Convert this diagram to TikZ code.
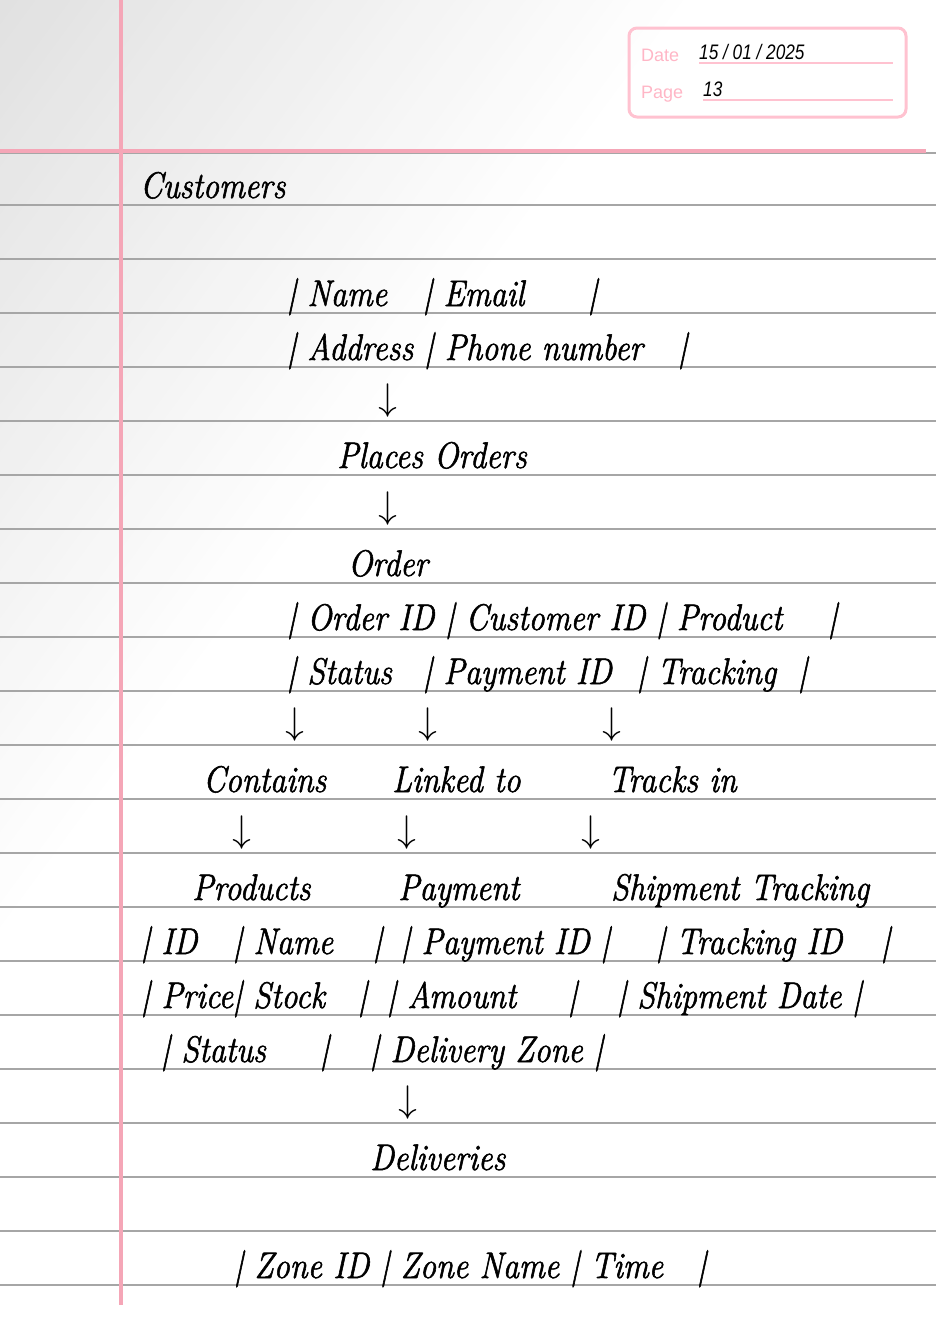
\documentclass[tikz,border=0pt]{standalone}
\usepackage{fontspec}
\newfontfamily\labelfont{Liberation Sans}
\newfontfamily\datefont{Liberation Sans}[FakeStretch=0.82]
\newfontfamily\handfont{Latin Modern Roman}[FakeStretch=0.87,FakeBold=1.5]
\newfontfamily\arrowfont{Latin Modern Math}
\definecolor{pinkmargin}{HTML}{F5A6B7}
\definecolor{pinkbox}{HTML}{FFC2D0}
\definecolor{pinktext}{HTML}{FFB6C6}
\definecolor{rulegray}{HTML}{A6A6A6}
\tikzset{
  hand/.style={anchor=base west, inner sep=0pt, text=black,
    font=\fontsize{37}{44}\handfont\itshape},
  arrowtxt/.style={anchor=south, inner sep=0pt, text=black,
    font=\fontsize{38}{44}\arrowfont},
  ruleline/.style={draw=rulegray, line width=2pt},
  boxlabel/.style={anchor=base west, inner sep=0pt, text=pinktext,
    font=\fontsize{18}{21}\selectfont\labelfont},
  boxvalue/.style={anchor=base west, inner sep=0pt, text=black,
    font=\fontsize{21}{24}\datefont\itshape},
}
\begin{document}
\begin{tikzpicture}[x=1pt,y=-1pt]
\useasboundingbox (0,0) rectangle (936,1320);
\fill[white] (0,0) rectangle (936,1320);
% soft grey shading in the top-left corner
\foreach \i in {40,39,...,1}{
  \pgfmathsetmacro\tt{\i/40}
  \pgfmathsetmacro\kk{12*(1-\tt)}
  \fill[black!\kk] (0,0) -- (700*\tt,0) -- (0,950*\tt) -- cycle;
}
% ruled lines
\draw[ruleline] (0,153) -- (936,153);
\foreach \k in {0,...,20}{
  \draw[ruleline] (0,205+54*\k) -- (936,205+54*\k);
}
% pink margin lines
\draw[pinkmargin, line width=3.5pt] (0,151) -- (926,151);
\draw[pinkmargin, line width=4pt] (121,0) -- (121,1305);

% date / page box
\draw[pinkbox, line width=3pt, rounded corners=8pt] (629,28) rectangle (906,117);
\node[boxlabel] (datelbl) at (641,61) {Date};
\node[boxlabel] (pagelbl) at (641,98) {Page};
\draw[pinkbox, line width=1.5pt] (699,63) -- (893,63);
\draw[pinkbox, line width=1.5pt] (703,100) -- (893,100);
\node[boxvalue] (dateval) at (699,59) {15 / 01 / 2025};
\node[boxvalue] (pageval) at (703,96) {13};

% handwritten content
\node[hand] (customers) at (140,198) {Customers};

\node[hand] (c1a) at (287,306) {| Name};
\node[hand] (c1b) at (423,306) {| Email};
\node[hand] (c1c) at (588,306) {|};
\node[hand] (c2a) at (287,360) {| Address | Phone number};
\node[hand] (c2b) at (678,360) {|};

\node[arrowtxt] (ar1) at (388,417) {↓};
\node[hand] (places) at (337,468) {Places Orders};
\node[arrowtxt] (ar2) at (388,525) {↓};
\node[hand] (order) at (348,576) {Order};

\node[hand] (o1a) at (287,630) {| Order ID | Customer ID | Product};
\node[hand] (o1b) at (828,630) {|};
\node[hand] (o2a) at (287,684) {| Status};
\node[hand] (o2b) at (423,684) {| Payment ID};
\node[hand] (o2c) at (637,684) {| Tracking};
\node[hand] (o2d) at (798,684) {|};

\node[arrowtxt] (ar3) at (295,741) {↓};
\node[arrowtxt] (ar4) at (428,741) {↓};
\node[arrowtxt] (ar5) at (612,741) {↓};

\node[hand] (contains) at (203,792) {Contains};
\node[hand] (linked) at (392,792) {Linked to};
\node[hand] (tracks) at (608,792) {Tracks in};

\node[arrowtxt] (ar6) at (242,849) {↓};
\node[arrowtxt] (ar7) at (407,849) {↓};
\node[arrowtxt] (ar8) at (591,849) {↓};

\node[hand] (products) at (192,900) {Products};
\node[hand] (payment) at (398,900) {Payment};
\node[hand] (shipment) at (611,900) {Shipment Tracking};

\node[hand] (r1a) at (141,954) {| ID};
\node[hand] (r1b) at (233,954) {| Name};
\node[hand] (r1c) at (373,954) {|};
\node[hand] (r1d) at (401,954) {| Payment ID |};
\node[hand] (r1e) at (656,954) {| Tracking ID};
\node[hand] (r1f) at (881,954) {|};

\node[hand] (r2a) at (141,1008) {| Price| Stock};
\node[hand] (r2b) at (358,1008) {|};
\node[hand] (r2c) at (387,1008) {| Amount};
\node[hand] (r2d) at (568,1008) {|};
\node[hand] (r2e) at (617,1008) {| Shipment Date |};

\node[hand] (r3a) at (161,1062) {| Status};
\node[hand] (r3b) at (320,1062) {|};
\node[hand] (r3c) at (370,1062) {| Delivery Zone |};

\node[arrowtxt] (ar9) at (408,1119) {↓};
\node[hand] (deliveries) at (370,1170) {Deliveries};

\node[hand] (z1a) at (234,1278) {| Zone ID | Zone Name | Time};
\node[hand] (z1b) at (697,1278) {|};
\end{tikzpicture}
\end{document}
